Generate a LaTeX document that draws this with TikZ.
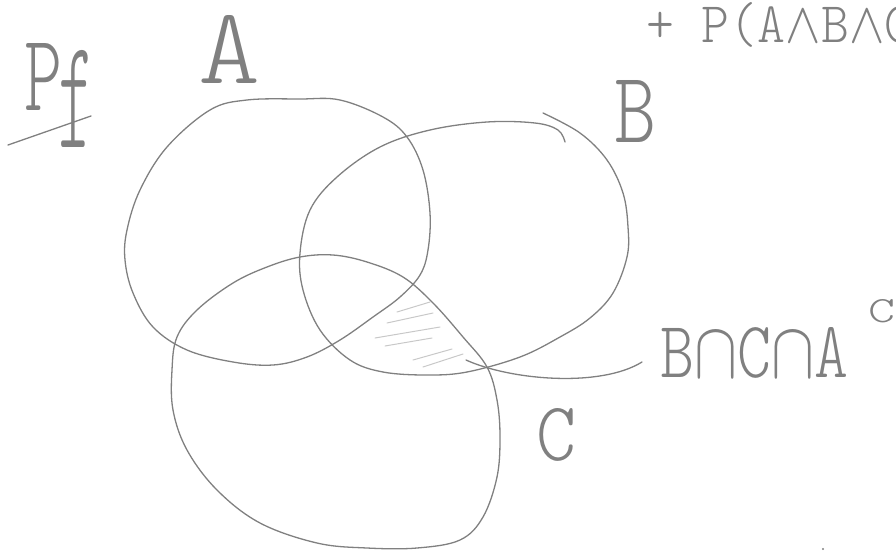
\documentclass[tikz,border=0pt]{standalone}
\usepackage{fontspec}
\usepackage{graphicx}
\newfontfamily\hand{Latin Modern Mono Light}
\definecolor{pen}{RGB}{128,128,128}
\definecolor{hatchc}{RGB}{200,200,200}
\tikzset{
  curve/.style={draw=pen, line width=1.3pt, line cap=round, line join=round},
  hatchline/.style={draw=hatchc, line width=1pt, line cap=round},
  lbl/.style={inner sep=0pt, text=pen, anchor=base west, font=\hand}
}
\begin{document}
\begin{tikzpicture}[x=1pt,y=-1pt]
\useasboundingbox (0,0) rectangle (896,552);
\clip (0,0) rectangle (896,552);

% hatching of B and C outside A
\draw[hatchline] (397,312) -- (430,302);
\draw[hatchline] (387,323) -- (433,313);
\draw[hatchline] (375,338) -- (440,327);
\draw[hatchline] (385,346) -- (432,338);
\draw[hatchline] (413,360) -- (452,349);
\draw[hatchline] (423,367) -- (463,354);

% set A
\draw[curve] plot[smooth cycle, tension=0.6] coordinates {
 (300,99) (340,100) (383,117) (407,137) (423,170) (430,213) (428,250)
 (420,275) (400,297) (373,317) (340,340) (307,357) (273,365) (233,362)
 (187,350) (153,327) (133,293) (125,260) (127,230) (140,190) (167,147)
 (210,110) (247,100)};

% set B
\draw[curve] plot[smooth, tension=0.6] coordinates {
 (543,113) (580,133) (607,160) (623,193) (628,227) (627,257) (613,293)
 (590,318) (560,337) (520,357) (467,372) (427,375) (383,372) (350,360)
 (320,330) (303,290) (300,253) (310,210) (337,177) (380,147) (430,130)
 (487,122) (535,123) (558,130) (565,142)};

% set C
\draw[curve] plot[smooth cycle, tension=0.6] coordinates {
 (300,257) (333,255) (367,262) (403,277) (433,303) (463,337) (487,367)
 (497,400) (500,437) (497,477) (483,517) (460,540) (417,548) (367,548)
 (317,543) (260,523) (217,490) (187,450) (173,410) (172,370) (177,337)
 (197,310) (233,283) (267,267)};

% labels
\node[lbl] (pf) at (24,110) {\resizebox{38pt}{67pt}{P}\hspace{-4pt}\raisebox{-37pt}{\resizebox{36pt}{97pt}{f}}};
\draw[curve] (8,145) -- (91,116);
\node[lbl] (la) at (198,83) {\resizebox{62pt}{68pt}{A}};
\node[lbl] (lb) at (614,142) {\resizebox{42pt}{62pt}{B}};
\node[lbl] (lc) at (536,460) {\resizebox{40pt}{52pt}{C}};
\node[lbl] (sum) at (646,42) {\resizebox{266pt}{40pt}{+ P(A$\wedge$B$\wedge$C}};
\node[lbl] (bca) at (660,377) {\resizebox{188pt}{50pt}{B$\cap$C$\cap$A}\hspace{20pt}\raisebox{55pt}{\resizebox{27pt}{23pt}{C}}};

% leader from shaded region to its label
\coordinate (lead) at (466,360);
\coordinate (leadend) at (642,362);
\draw[curve] (lead) .. controls (510,380) and (600,388) .. (leadend);

% small speck
\fill[pen] (823,549) circle (1.2);
\end{tikzpicture}
\end{document}
